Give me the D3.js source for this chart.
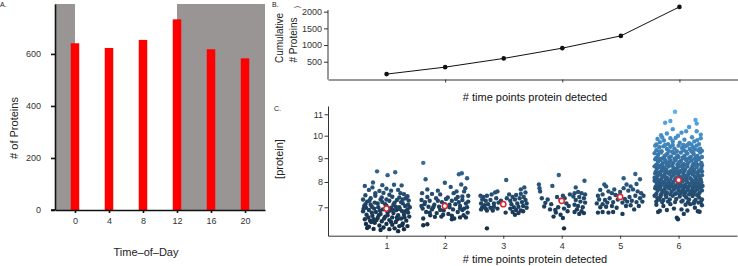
<!DOCTYPE html>
<html><head><meta charset="utf-8">
<script src="https://cdn.jsdelivr.net/npm/d3@7"></script>
<style>
body{margin:0;background:#fff}
svg{display:block}
text{font-family:"Liberation Sans",Arial,Helvetica,sans-serif}
</style>
</head><body>
<svg id="c" width="738" height="266"></svg>
<script>
// ---------- Panel A data ----------
const hours = [0, 4, 8, 12, 16, 20];
const proteinsPerHour = [641, 623, 654, 733, 618, 583];
const darkPeriods = [[-2.35, 0], [12, 22.35]];
const countTicks = [0, 200, 400, 600];

// ---------- Panel B data ----------
const timePoints = [1, 2, 3, 4, 5, 6];
const cumulative = [129, 338, 599, 907, 1275, 2144];
const cumTicks = [500, 1000, 1500, 2000];
const cumXTicks = [2, 4, 6];

// ---------- Panel C data ----------
const concTicks = [7, 8, 9, 10, 11];
const groupMeans = [6.95, 7.05, 7.12, 7.25, 7.40, 8.08];
// pairs: jitter offset (x units), [protein]
const g1 = [-0.16,8.44, 0.02,8.28, 0.15,8.40, -0.23,7.98, -0.37,7.84, -0.07,7.87, 0.13,7.89, 0.26,7.86, 0.00,7.73, -0.30,7.68, -0.12,7.64, -0.19,7.55, -0.05,7.56, 0.05,7.49, -0.36,7.47, 0.30,7.51, 0.36,7.43, 0.22,7.38, 0.10,7.41, -0.27,7.35, -0.10,7.30, 0.05,7.25, 0.18,7.28, -0.33,7.22, 0.38,7.26, 0.28,7.15, -0.20,7.18, -0.02,7.12, 0.12,7.10, -0.38,7.05, -0.25,7.02, 0.32,7.05, 0.22,7.00, -0.14,7.00, 0.08,6.98, -0.06,6.92, 0.17,6.90, -0.30,6.90, 0.36,6.92, 0.27,6.85, -0.40,6.85, -0.18,6.82, 0.02,6.80, 0.12,6.78, -0.10,6.75, -0.34,6.72, 0.30,6.72, 0.20,6.70, -0.24,6.68, 0.39,6.65, -0.02,6.65, 0.10,6.62, -0.15,6.60, 0.25,6.58, -0.37,6.55, 0.05,6.52, -0.28,6.50, 0.34,6.50, -0.08,6.48, 0.16,6.45, -0.20,6.42, 0.28,6.40, -0.35,6.38, 0.00,6.38, 0.10,6.35, -0.12,6.32, 0.22,6.30, -0.30,6.28, 0.36,6.30, -0.05,6.25, 0.14,6.22, -0.22,6.20, 0.20,6.12, -0.33,6.23, 0.30,6.19, -0.29,7.25, -0.15,7.15, 0.00,7.05, 0.25,7.20, -0.08,7.38, 0.33,7.35, -0.36,7.12, -0.21,6.95, 0.14,7.18, 0.06,6.88, -0.11,6.88, 0.23,6.93, -0.31,6.62, 0.31,6.62, -0.04,6.58, 0.19,6.55, -0.17,6.52, 0.08,6.45, -0.26,6.45, 0.37,6.80, -0.39,6.95, 0.27,6.33, -0.10,6.16, 0.05,6.19, 0.16,7.02, -0.27,7.10, 0.00,7.30, 0.37,7.10, -0.19,7.45, 0.24,7.55, 0.08,7.65, -0.24,7.78, 0.20,7.68, -0.40,7.30, 0.40,7.00, -0.13,6.70, 0.33,6.85, -0.25,6.80, 0.11,6.90, -0.35,6.98, 0.28,7.30, -0.07,7.20, 0.18,6.62, -0.22,6.55, 0.02,6.70];
const g2 = [-0.37,8.80, -0.33,8.11, 0.00,7.97, 0.24,8.32, 0.29,8.36, 0.38,8.15, 0.28,7.90, -0.39,7.55, -0.22,7.52, -0.08,7.50, 0.15,7.55, 0.33,7.62, 0.40,7.45, -0.30,7.40, -0.15,7.35, 0.05,7.38, 0.22,7.40, -0.40,7.28, -0.26,7.25, 0.12,7.25, 0.30,7.28, -0.05,7.20, 0.36,7.15, -0.35,7.12, -0.18,7.10, 0.00,7.12, 0.18,7.12, 0.26,7.05, -0.28,7.02, -0.10,7.02, 0.08,7.00, 0.38,7.00, -0.38,6.95, -0.22,6.92, 0.14,6.92, 0.30,6.90, -0.02,6.88, -0.32,6.82, 0.22,6.82, 0.39,6.80, -0.14,6.78, 0.06,6.75, -0.25,6.70, 0.32,6.70, 0.12,6.68, -0.06,6.65, -0.17,6.64, 0.26,6.62, -0.37,6.58, -0.30,6.37, -0.37,6.33, 0.20,7.62, -0.12,7.65, 0.10,7.80, -0.30,7.70, 0.35,7.75, 0.02,7.32, -0.34,7.20, 0.24,7.20, -0.20,7.00, 0.33,6.95, 0.16,6.58, -0.08,6.90, 0.08,7.10, -0.26,6.80, 0.40,7.22, 0.19,7.32, -0.12,7.25, 0.30,7.42, -0.03,6.72, 0.12,6.55, 0.36,6.62, -0.40,7.05, 0.26,6.95];
const g3 = [-0.28,6.22, 0.05,8.08, 0.36,7.78, 0.30,7.70, -0.39,7.45, -0.34,7.40, -0.28,7.45, -0.20,7.50, -0.14,7.58, -0.10,7.62, -0.36,7.30, -0.30,7.25, -0.22,7.28, -0.38,7.15, -0.32,7.08, -0.26,7.12, -0.16,7.15, -0.08,7.18, -0.36,7.00, -0.30,6.95, -0.22,6.98, -0.16,7.02, -0.10,6.95, -0.38,6.92, -0.28,6.88, -0.18,6.88, 0.04,6.80, 0.06,7.35, 0.16,7.40, 0.22,7.48, 0.30,7.52, 0.38,7.58, 0.12,7.25, 0.20,7.30, 0.28,7.35, 0.35,7.40, 0.14,7.12, 0.24,7.15, 0.32,7.20, 0.40,7.15, 0.18,7.00, 0.26,7.02, 0.34,7.05, 0.40,6.98, 0.22,6.90, 0.30,6.88, 0.16,6.82, 0.26,6.78, 0.20,6.72, 0.34,6.85, 0.38,7.28, 0.10,7.50, -0.04,7.25, -0.12,7.35, 0.12,6.95];
const g4 = [-0.05,8.29, -0.39,7.90, -0.38,7.75, -0.37,7.62, -0.16,7.84, 0.39,8.05, 0.24,7.78, -0.28,7.17, -0.30,7.03, -0.20,6.92, -0.11,6.90, -0.02,6.72, -0.14,6.65, 0.02,6.60, 0.04,6.22, -0.08,7.40, 0.02,7.45, 0.05,7.35, -0.02,7.28, 0.08,7.15, 0.12,7.05, -0.06,7.00, 0.10,6.85, 0.04,6.95, 0.22,7.55, 0.28,7.60, 0.34,7.55, 0.40,7.50, 0.20,7.42, 0.30,7.40, 0.38,7.35, 0.24,7.28, 0.32,7.22, 0.40,7.18, 0.22,7.10, 0.28,7.05, 0.36,7.00, 0.26,6.92, 0.34,6.85, 0.30,6.75, 0.38,6.78, 0.22,6.82, -0.34,7.35, -0.24,7.30, -0.18,7.12, 0.14,7.50, -0.10,6.80];
const g5 = [0.26,8.33, 0.34,8.11, 0.06,8.15, -0.27,7.90, -0.24,7.82, 0.11,7.90, 0.18,7.82, -0.34,7.68, -0.38,7.45, -0.30,7.50, -0.20,7.62, -0.14,7.55, -0.08,7.48, 0.00,7.60, 0.14,7.65, 0.22,7.70, 0.30,7.62, 0.36,7.55, 0.40,7.45, -0.36,7.30, -0.26,7.28, -0.18,7.35, -0.04,7.30, 0.08,7.32, 0.16,7.40, 0.26,7.45, 0.34,7.35, -0.40,7.15, -0.30,7.12, -0.22,7.18, -0.12,7.20, 0.04,7.18, 0.12,7.22, 0.20,7.25, 0.28,7.20, 0.38,7.22, -0.34,7.00, -0.24,7.02, -0.14,7.05, -0.06,6.98, 0.10,7.05, 0.18,7.08, 0.32,7.05, -0.38,6.80, -0.30,6.82, -0.20,6.80, -0.12,6.82, 0.04,6.75, 0.24,6.92, -0.02,7.45, 0.06,7.75, -0.10,7.70, 0.28,7.92];
const g6 = [
-0.06,11.12, -0.23,10.60, -0.14,10.68, 0.29,10.73, 0.31,10.56, 0.05,10.14, 0.13,10.20, -0.01,10.00, 0.23,9.93, 0.31,10.20, -0.20,10.10, -0.30,10.02, 0.18,10.40, -0.10,10.30, 0.38,10.05,
-0.36,9.85, -0.32,9.70, -0.25,9.78, -0.18,9.62, -0.10,9.75, 0.02,9.68, 0.10,9.82, 0.18,9.66, 0.27,9.74, 0.35,9.62, -0.38,9.60, -0.05,9.90, 0.38,9.88, 0.22,9.60, -0.28,9.92, 0.08,9.58, -0.14,9.88, 0.32,9.80,
-0.40,9.55, -0.33,9.48, -0.26,9.52, -0.20,9.40, -0.14,9.50, -0.07,9.42, 0.00,9.55, 0.06,9.45, 0.12,9.52, 0.19,9.40, 0.25,9.48, 0.31,9.55, 0.37,9.42, 0.40,9.32, -0.38,9.35, -0.29,9.30, -0.17,9.32, -0.03,9.30, 0.09,9.35, 0.22,9.30, 0.34,9.35, -0.10,9.58, 0.15,9.58, -0.23,9.58, 0.28,9.38,
-0.41,9.22, -0.35,9.15, -0.30,9.25, -0.24,9.10, -0.19,9.20, -0.13,9.08, -0.08,9.22, -0.02,9.12, 0.04,9.25, 0.10,9.10, 0.15,9.20, 0.21,9.05, 0.26,9.18, 0.32,9.10, 0.37,9.25, 0.40,9.05, -0.38,9.02, -0.27,9.00, -0.16,9.02, -0.05,9.00, 0.07,9.02, 0.18,9.00, 0.29,9.02, 0.35,9.00, -0.33,9.28, -0.11,9.28, 0.13,9.28, 0.00,9.05, -0.21,9.15, 0.24,9.26,
-0.40,8.95, -0.35,8.85, -0.31,8.92, -0.27,8.78, -0.22,8.88, -0.18,8.75, -0.14,8.90, -0.09,8.80, -0.05,8.92, 0.00,8.78, 0.04,8.88, 0.09,8.75, 0.13,8.92, 0.17,8.82, 0.22,8.90, 0.26,8.76, 0.30,8.86, 0.35,8.95, 0.39,8.80, -0.38,8.72, -0.29,8.70, -0.20,8.72, -0.11,8.70, -0.02,8.72, 0.07,8.70, 0.15,8.72, 0.24,8.70, 0.33,8.72, 0.40,8.70, -0.33,8.98, -0.24,8.96, -0.07,8.97, 0.11,8.98, 0.28,8.97, 0.02,8.84, -0.16,8.83,
-0.41,8.65, -0.37,8.55, -0.33,8.62, -0.29,8.48, -0.25,8.60, -0.21,8.50, -0.17,8.64, -0.13,8.45, -0.09,8.58, -0.05,8.50, -0.01,8.62, 0.03,8.46, 0.07,8.58, 0.11,8.52, 0.15,8.64, 0.19,8.45, 0.23,8.58, 0.27,8.50, 0.31,8.62, 0.35,8.48, 0.39,8.58, -0.39,8.42, -0.31,8.40, -0.23,8.42, -0.15,8.40, -0.07,8.42, 0.01,8.40, 0.09,8.42, 0.17,8.40, 0.25,8.42, 0.33,8.40, 0.40,8.44, -0.35,8.68, -0.19,8.68, -0.03,8.55, 0.13,8.68, 0.29,8.68, -0.27,8.55, 0.21,8.53, 0.05,8.66,
-0.40,8.35, -0.36,8.25, -0.32,8.32, -0.28,8.20, -0.24,8.30, -0.20,8.18, -0.16,8.34, -0.12,8.22, -0.08,8.30, -0.04,8.15, 0.00,8.28, 0.04,8.20, 0.08,8.34, 0.12,8.18, 0.16,8.28, 0.20,8.15, 0.24,8.32, 0.28,8.22, 0.32,8.35, 0.36,8.20, 0.40,8.28, -0.38,8.12, -0.30,8.10, -0.22,8.12, -0.14,8.10, -0.06,8.12, 0.06,8.10, 0.14,8.12, 0.22,8.10, 0.30,8.12, 0.38,8.10, -0.34,8.38, -0.18,8.38, -0.02,8.37, 0.10,8.26, 0.26,8.38, -0.26,8.25, 0.34,8.27, -0.10,8.38, 0.18,8.36, -0.41,8.18, 0.02,8.13,
-0.41,8.05, -0.37,7.95, -0.33,8.02, -0.29,7.90, -0.25,8.00, -0.21,7.88, -0.17,8.04, -0.13,7.92, -0.09,8.00, -0.05,7.86, -0.01,7.96, 0.03,7.90, 0.07,8.02, 0.11,7.88, 0.15,7.98, 0.19,7.85, 0.23,8.04, 0.27,7.92, 0.31,8.00, 0.35,7.88, 0.39,7.98, -0.39,7.82, -0.31,7.80, -0.23,7.82, -0.15,7.80, -0.07,7.82, 0.01,7.80, 0.09,7.82, 0.17,7.80, 0.25,7.82, 0.33,7.80, 0.41,7.84, -0.35,8.07, -0.19,7.95, -0.03,8.07, 0.13,8.07, 0.29,8.07, -0.27,7.95, 0.21,7.94, 0.37,8.07, -0.11,7.83, 0.05,7.84, -0.33,7.88, 0.33,7.93,
-0.40,7.75, -0.36,7.65, -0.32,7.72, -0.28,7.60, -0.24,7.70, -0.20,7.58, -0.16,7.74, -0.12,7.62, -0.08,7.70, -0.04,7.55, 0.00,7.66, 0.04,7.58, 0.08,7.72, 0.12,7.60, 0.16,7.68, 0.20,7.55, 0.24,7.72, 0.28,7.62, 0.32,7.70, 0.36,7.58, 0.40,7.66, -0.38,7.52, -0.30,7.50, -0.22,7.52, -0.14,7.50, -0.06,7.52, 0.02,7.50, 0.10,7.52, 0.18,7.50, 0.26,7.52, 0.34,7.50, -0.34,7.78, -0.18,7.78, -0.02,7.77, 0.14,7.78, 0.30,7.78, -0.26,7.66, 0.22,7.64, 0.38,7.76, 0.06,7.65,
-0.41,7.45, -0.36,7.35, -0.31,7.42, -0.26,7.28, -0.21,7.40, -0.15,7.30, -0.10,7.45, -0.04,7.32, 0.02,7.42, 0.07,7.25, 0.13,7.38, 0.18,7.30, 0.24,7.44, 0.29,7.28, 0.35,7.38, 0.40,7.30, -0.38,7.22, -0.28,7.20, -0.18,7.22, -0.06,7.20, 0.05,7.22, 0.16,7.20, 0.27,7.22, 0.38,7.20, -0.33,7.30, 0.10,7.47, -0.22,7.47, 0.32,7.47,
-0.35,6.82, -0.32,6.87, -0.14,7.12, -0.03,6.61, -0.01,6.55, 0.33,6.85, 0.36,6.83, 0.12,7.10, 0.20,7.12, 0.26,7.15, 0.34,7.18, -0.26,7.05, -0.08,6.95, 0.05,6.92, 0.15,6.88, 0.28,6.98, -0.20,6.90, 0.09,6.75, -0.38,7.10, 0.40,7.08];
const groups = [g1, g2, g3, g4, g5, g6];

// ---------- drawing ----------
const svg = d3.select("#c");
const FS = 9;
const intFmt = d3.format("d");

function styleAxis(g, color, width) {
  g.selectAll("path.domain").attr("stroke", color).attr("stroke-width", width);
  g.selectAll(".tick line").attr("stroke", color).attr("stroke-width", width);
  g.selectAll(".tick text").attr("fill", "#333").attr("font-size", FS)
    .attr("font-family", '"Liberation Sans",Arial,sans-serif');
}

// Panel A
const xA = d3.scaleLinear().domain([-2.35, 22.35]).range([55, 265]);
const yA = d3.scaleLinear().domain([0, 792]).range([210, 4]);
svg.append("g").selectAll("rect").data(darkPeriods).join("rect")
  .attr("x", d => xA(d[0])).attr("width", d => xA(d[1]) - xA(d[0]))
  .attr("y", yA(792)).attr("height", yA(0) - yA(792)).attr("fill", "#999595");
const bw = xA(0.5) - xA(-0.5);
svg.append("g").selectAll("rect").data(hours).join("rect")
  .attr("x", d => xA(d) - bw / 2).attr("width", bw)
  .attr("y", (d, i) => yA(proteinsPerHour[i]))
  .attr("height", (d, i) => yA(0) - yA(proteinsPerHour[i]))
  .attr("fill", "#ff0000");
const axAy = svg.append("g").attr("transform", "translate(55,0)")
  .call(d3.axisLeft(yA).tickValues(countTicks).tickFormat(intFmt).tickSize(4).tickSizeOuter(0).tickPadding(10));
styleAxis(axAy, "#111", 1.6);
const axAx = svg.append("g").attr("transform", "translate(0,210)")
  .call(d3.axisBottom(xA).tickValues(hours).tickFormat(intFmt).tickSize(3).tickSizeOuter(0).tickPadding(5));
styleAxis(axAx, "#111", 1.6);
svg.append("line").attr("x1", 51).attr("x2", 55).attr("y1", 210).attr("y2", 210)
  .attr("stroke", "#111").attr("stroke-width", 1.6);
svg.append("text").attr("x", 146).attr("y", 256).attr("text-anchor", "middle")
  .attr("font-size", 11).attr("fill", "#222").text("Time–of–Day");
svg.append("text").attr("transform", "translate(18,128) rotate(-90)").attr("text-anchor", "middle")
  .attr("font-size", 11).attr("fill", "#222").text("# of Proteins");
svg.append("text").attr("x", 0).attr("y", 7).attr("font-size", 7).attr("fill", "#222").text("A.");

// Panel B
const xB = d3.scaleLinear().domain([0, 7]).range([328, 738]);
const yB = d3.scaleLinear().domain([0, 2000]).range([78.4, 11.7]);
const axBy = svg.append("g").attr("transform", "translate(328,0)")
  .call(d3.axisLeft(yB).tickValues(cumTicks).tickFormat(intFmt).tickSize(4).tickSizeOuter(0).tickPadding(2));
axBy.select("path.domain").attr("d", "M0,10V79.5");
styleAxis(axBy, "#333", 1);
const axBx = svg.append("g").attr("transform", "translate(0,79.5)")
  .call(d3.axisBottom(xB).tickValues(cumXTicks).tickSize(3).tickSizeOuter(0).tickFormat(""));
styleAxis(axBx, "#333", 1);
svg.append("path").datum(timePoints)
  .attr("d", d3.line().x(d => xB(d)).y((d, i) => yB(cumulative[i])))
  .attr("fill", "none").attr("stroke", "#111").attr("stroke-width", 1);
svg.append("g").selectAll("circle").data(timePoints).join("circle")
  .attr("cx", d => xB(d)).attr("cy", (d, i) => yB(cumulative[i])).attr("r", 2.3).attr("fill", "#111");
svg.append("text").attr("x", 535).attr("y", 101).attr("text-anchor", "middle")
  .attr("font-size", 11).attr("fill", "#111").text("# time points protein detected");
svg.append("text").attr("transform", "translate(283,38) rotate(-90)").attr("text-anchor", "middle")
  .attr("font-size", 10).attr("fill", "#222").text("Cumulative");
svg.append("text").attr("transform", "translate(296.5,40) rotate(-90)").attr("text-anchor", "middle")
  .attr("font-size", 10).attr("fill", "#222").text("# Proteins");
svg.append("text").attr("transform", "translate(298.5,7) rotate(-90)").attr("text-anchor", "middle")
  .attr("font-size", 7).attr("fill", "#333").text(")");
svg.append("text").attr("x", 272).attr("y", 7).attr("font-size", 7).attr("fill", "#222").text("B.");

// Panel C
const xC = d3.scaleLinear().domain([0, 7]).range([328, 737]);
const yC = d3.scaleSqrt().domain([5.958, 11.40]).range([235.7, 106]);
const axCy = svg.append("g").attr("transform", "translate(328,0)")
  .call(d3.axisLeft(yC).tickValues(concTicks).tickFormat(intFmt).tickSize(3.5).tickSizeOuter(0).tickPadding(1.5));
styleAxis(axCy, "#333", 1);
const axCx = svg.append("g").attr("transform", "translate(0,235.7)")
  .call(d3.axisBottom(xC).tickValues(timePoints).tickFormat(intFmt).tickSize(3).tickSizeOuter(0).tickPadding(4));
styleAxis(axCx, "#333", 1);

const pts = [];
groups.forEach((g, gi) => {
  for (let k = 0; k < g.length; k += 2) pts.push({ x: timePoints[gi] + g[k], y: g[k + 1] });
});
const color = d3.scaleLinear().domain(d3.extent(pts, d => d.y))
  .range(["#132B43", "#56B1F7"]).interpolate(d3.interpolateLab);
svg.append("g").selectAll("circle").data(pts).join("circle")
  .attr("cx", d => xC(d.x)).attr("cy", d => yC(d.y)).attr("r", 2.2)
  .attr("fill", d => color(d.y));
svg.append("g").selectAll("circle").data(groupMeans).join("circle")
  .attr("cx", (d, i) => xC(timePoints[i])).attr("cy", d => yC(d)).attr("r", 2.6)
  .attr("fill", "#fff").attr("stroke", "#e0242c").attr("stroke-width", 1.5);
svg.append("text").attr("x", 535).attr("y", 263).attr("text-anchor", "middle")
  .attr("font-size", 11).attr("fill", "#111").text("# time points protein detected");
svg.append("text").attr("transform", "translate(283,159) rotate(-90)").attr("text-anchor", "middle")
  .attr("font-size", 11).attr("fill", "#222").text("[protein]");
svg.append("text").attr("x", 274).attr("y", 111).attr("font-size", 7).attr("fill", "#222").text("C.");
</script>
</body></html>
